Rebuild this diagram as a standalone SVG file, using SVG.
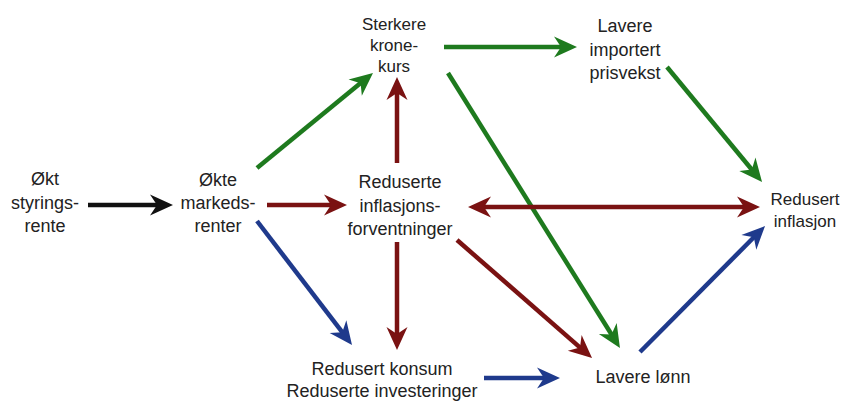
<svg xmlns="http://www.w3.org/2000/svg" width="844" height="401" viewBox="0 0 844 401">
<style>
  text { font-family: "Liberation Sans", Arial, sans-serif; font-size: 18px; fill: #222; text-anchor: middle; }
  .sm { font-size: 17px; }
  line { stroke-width: 4.5; fill: none; }
  .k { stroke: #111; }
  .r { stroke: #7a1212; }
  .g { stroke: #1e7a1e; }
  .b { stroke: #1f3a8c; }
</style>
<defs>
  <marker id="ak" markerUnits="userSpaceOnUse" orient="auto" viewBox="-26 -13 28 26" markerWidth="28" markerHeight="26" refX="-12" refY="0"><path d="M0,0 L-23,-10.5 L-16,0 L-23,10.5 Z" fill="#111"/></marker>
  <marker id="ar" markerUnits="userSpaceOnUse" orient="auto-start-reverse" viewBox="-26 -13 28 26" markerWidth="28" markerHeight="26" refX="-12" refY="0"><path d="M0,0 L-23,-10.5 L-16,0 L-23,10.5 Z" fill="#7a1212"/></marker>
  <marker id="ag" markerUnits="userSpaceOnUse" orient="auto" viewBox="-26 -13 28 26" markerWidth="28" markerHeight="26" refX="-12" refY="0"><path d="M0,0 L-23,-10.5 L-16,0 L-23,10.5 Z" fill="#1e7a1e"/></marker>
  <marker id="ab" markerUnits="userSpaceOnUse" orient="auto" viewBox="-26 -13 28 26" markerWidth="28" markerHeight="26" refX="-12" refY="0"><path d="M0,0 L-23,-10.5 L-16,0 L-23,10.5 Z" fill="#1f3a8c"/></marker>
</defs>

<g id="connectors">
  <line class="k" x1="88" y1="205" x2="161" y2="205" marker-end="url(#ak)"/>
  <line class="r" x1="267" y1="205" x2="335" y2="205" marker-end="url(#ar)"/>
  <line class="g" x1="257" y1="168" x2="363.7" y2="80.6" marker-end="url(#ag)"/>
  <line class="b" x1="257" y1="221" x2="344.7" y2="335.4" marker-end="url(#ab)"/>
  <line class="r" x1="397" y1="163" x2="397" y2="89" marker-end="url(#ar)"/>
  <line class="r" x1="397" y1="242" x2="397" y2="338" marker-end="url(#ar)"/>
  <line class="g" x1="444" y1="47" x2="565" y2="47" marker-end="url(#ag)"/>
  <line class="g" x1="448" y1="73" x2="613.6" y2="337.8" marker-end="url(#ag)"/>
  <line class="r" x1="457" y1="240" x2="583" y2="350.1" marker-end="url(#ar)"/>
  <line class="r" x1="480" y1="207" x2="748" y2="207" marker-start="url(#ar)" marker-end="url(#ar)"/>
  <line class="g" x1="667" y1="67" x2="754.4" y2="172.7" marker-end="url(#ag)"/>
  <line class="b" x1="640" y1="352" x2="756.6" y2="234.5" marker-end="url(#ab)"/>
  <line class="b" x1="484" y1="378" x2="548" y2="378" marker-end="url(#ab)"/>
</g>

<g id="okt-styringsrente">
  <text x="45" y="185">Økt</text>
  <text x="45" y="209">styrings-</text>
  <text x="45" y="232">rente</text>
</g>
<g id="okte-markedsrenter">
  <text x="218" y="186">Økte</text>
  <text x="218" y="209">markeds-</text>
  <text x="218" y="232">renter</text>
</g>
<g id="reduserte-inflasjonsforventninger">
  <text x="400" y="188">Reduserte</text>
  <text x="400" y="212">inflasjons-</text>
  <text x="400" y="235">forventninger</text>
</g>
<g id="sterkere-kronekurs">
  <text class="sm" x="394" y="30">Sterkere</text>
  <text class="sm" x="394" y="51">krone-</text>
  <text class="sm" x="394" y="72">kurs</text>
</g>
<g id="lavere-importert-prisvekst">
  <text x="625" y="32">Lavere</text>
  <text x="625" y="56">importert</text>
  <text x="625" y="79">prisvekst</text>
</g>
<g id="redusert-inflasjon">
  <text class="sm" x="805" y="205">Redusert</text>
  <text class="sm" x="805" y="227">inflasjon</text>
</g>
<g id="redusert-konsum">
  <text x="382" y="375">Redusert konsum</text>
  <text x="382" y="397">Reduserte investeringer</text>
</g>
<g id="lavere-lonn">
  <text x="643" y="383">Lavere lønn</text>
</g>
</svg>
